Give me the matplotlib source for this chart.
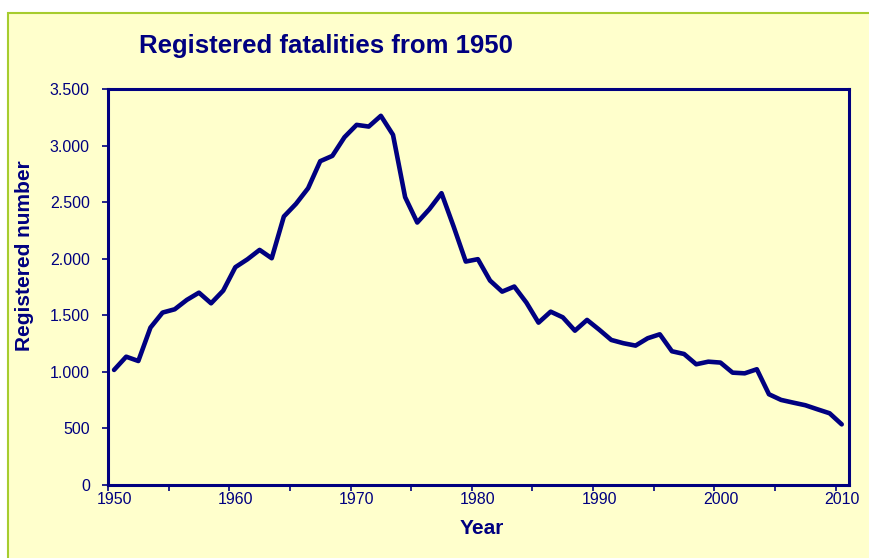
import matplotlib
matplotlib.use("Agg")
import matplotlib.pyplot as plt
from matplotlib.patches import Rectangle
from matplotlib.ticker import FuncFormatter

years = list(range(1950, 2011))
fatalities = [
    1017, 1134, 1096, 1391, 1524, 1553, 1636, 1700, 1606, 1718,
    1925, 1995, 2078, 2004, 2373, 2485, 2623, 2862, 2909, 3074,
    3183, 3168, 3263, 3095, 2544, 2320, 2438, 2579, 2284, 1975,
    1996, 1807, 1709, 1754, 1612, 1435, 1532, 1482, 1364, 1459,
    1373, 1282, 1253, 1232, 1297, 1332, 1182, 1158, 1067, 1090,
    1082, 993, 987, 1023, 802, 752, 728, 705, 669, 634,
    536,
]
year_labels = [1950, 1960, 1970, 1980, 1990, 2000, 2010]
y_ticks = [0, 500, 1000, 1500, 2000, 2500, 3000, 3500]

navy = "#000080"
plt.rcParams['font.family'] = ['Liberation Sans', 'DejaVu Sans']

W, H = 870, 558
fig = plt.figure(figsize=(W / 100, H / 100), dpi=100)
fig.patch.set_facecolor("white")

# yellow panel with green border behind everything
panel = Rectangle((8 / W, -0.01), 1.0, 1 - 13 / H + 0.01, transform=fig.transFigure,
                  facecolor="#FFFFCC", edgecolor="#A6CC2E", linewidth=1.5, zorder=-10)
fig.patches.append(panel)

ax = fig.add_axes([108 / W, 1 - 485 / H, (849 - 108) / W, (485 - 89) / H])
ax.set_facecolor("#FFFFCC")
ax.plot(years, fatalities, color=navy, linewidth=3.3, solid_joinstyle="round",
        solid_capstyle="round", clip_on=False)

ax.set_xlim(1949.5, 2010.6)
ax.set_ylim(0, 3500)
ax.set_yticks(y_ticks)
ax.yaxis.set_major_formatter(FuncFormatter(lambda v, p: f"{int(v):,}".replace(",", ".")))

# labels sit on the years, tick marks on the category boundaries
ax.set_xticks(year_labels)
ax.set_xticklabels([str(y) for y in year_labels])
ax.set_xticks([y - 0.5 for y in range(1950, 2011, 5)], minor=True)
ax.tick_params(axis="x", which="major", length=0, pad=5)
ax.tick_params(axis="x", which="minor", length=4, width=1.2, color=navy, direction="out")
ax.tick_params(axis="y", length=4, width=1.2, color=navy, direction="out", pad=9)
ax.tick_params(labelsize=11.5, labelcolor=navy)

for s in ax.spines.values():
    s.set_color(navy)
    s.set_linewidth(2.2)

fig.text(326 / W, 1 - 46 / H, "Registered fatalities from 1950", ha="center", va="center",
         fontsize=18.5, fontweight="bold", color=navy)
fig.text(25 / W, 1 - 256 / H, "Registered number", ha="center", va="center", rotation=90,
         fontsize=15, fontweight="bold", color=navy)
fig.text(482 / W, 1 - 528 / H, "Year", ha="center", va="center",
         fontsize=15, fontweight="bold", color=navy)

fig.savefig("out.png", dpi=100)
